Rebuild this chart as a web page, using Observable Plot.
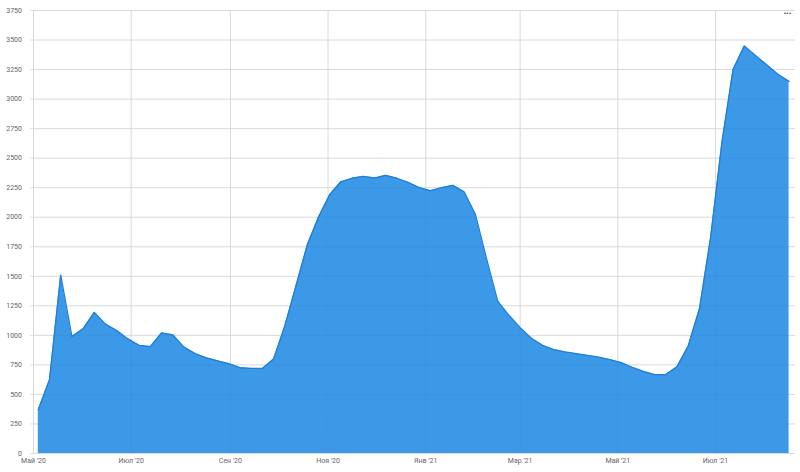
<!DOCTYPE html>
<html>
<head>
<meta charset="utf-8">
<script src="https://cdn.jsdelivr.net/npm/d3@7"></script>
<script src="https://cdn.jsdelivr.net/npm/@observablehq/plot@0.6"></script>
<style>
  html, body { margin: 0; padding: 0; background: #fff; }
  #chart svg { display: block; }
</style>
</head>
<body>
<div id="chart"></div>
<script>
const dates = [
  "2020-05-04","2020-05-11","2020-05-18","2020-05-25","2020-06-01","2020-06-08","2020-06-15","2020-06-22","2020-06-29",
  "2020-07-06","2020-07-13","2020-07-20","2020-07-27","2020-08-03","2020-08-10","2020-08-17","2020-08-24","2020-08-31",
  "2020-09-07","2020-09-14","2020-09-21","2020-09-28","2020-10-05","2020-10-12","2020-10-19","2020-10-26",
  "2020-11-02","2020-11-09","2020-11-16","2020-11-23","2020-11-30","2020-12-07","2020-12-14","2020-12-21","2020-12-28",
  "2021-01-04","2021-01-11","2021-01-18","2021-01-25","2021-02-01","2021-02-08","2021-02-15","2021-02-22",
  "2021-03-01","2021-03-08","2021-03-15","2021-03-22","2021-03-29","2021-04-05","2021-04-12","2021-04-19","2021-04-26",
  "2021-05-03","2021-05-10","2021-05-17","2021-05-24","2021-05-31","2021-06-07","2021-06-14","2021-06-21","2021-06-28",
  "2021-07-05","2021-07-12","2021-07-19","2021-07-26","2021-08-02","2021-08-09","2021-08-16"
];
const values = [
  370, 625, 1510, 990, 1055, 1195, 1095, 1040, 970,
  915, 905, 1020, 1005, 900, 845, 810, 785, 760,
  726, 720, 720, 800, 1080, 1420, 1765, 2000,
  2190, 2300, 2330, 2345, 2332, 2355, 2330, 2295, 2250,
  2225, 2250, 2270, 2215, 2025, 1650, 1290, 1170,
  1065, 975, 915, 880, 860, 845, 830, 815, 795,
  770, 730, 695, 668, 668, 735, 910, 1225, 1830,
  2630, 3250, 3450, 3370, 3290, 3210, 3150
];
const xTickDates = ["2020-05-01","2020-07-01","2020-09-01","2020-11-01","2021-01-01","2021-03-01","2021-05-01","2021-07-01"];
const xTickLabels = ["Май '20","Июл '20","Сен '20","Ноя '20","Янв '21","Мар '21","Май '21","Июл '21"];
const yTicks = [0,250,500,750,1000,1250,1500,1750,2000,2250,2500,2750,3000,3250,3500,3750];
const xDomain = ["2020-05-01","2021-08-20"];

const data = dates.map((d, i) => ({date: new Date(d + "T00:00:00Z"), value: values[i]}));
const xt = xTickDates.map(d => new Date(d + "T00:00:00Z"));
const labelOf = new Map(xt.map((d, i) => [+d, xTickLabels[i]]));

const chart = Plot.plot({
  width: 800,
  height: 472,
  marginLeft: 33,
  marginRight: 5,
  marginTop: 10,
  marginBottom: 19,
  style: {fontFamily: "Roboto, sans-serif", fontSize: "7px", background: "#fff", color: "#666"},
  x: {type: "utc", domain: xDomain.map(d => new Date(d + "T00:00:00Z")), label: null},
  y: {domain: [0, 3750], label: null},
  marks: [
    Plot.gridY(yTicks, {stroke: "#e2e2e2", strokeOpacity: 1}),
    Plot.gridX(xt, {stroke: "#e2e2e2", strokeOpacity: 1}),
    Plot.axisY(yTicks, {tickSize: 3, color: "#e2e2e2", text: null, label: null}),
    Plot.axisY(yTicks, {tickSize: 0, tickPadding: 11.5, color: "#666", label: null, tickFormat: d => String(d)}),
    Plot.axisX(xt, {tickSize: 0, tickPadding: 5, color: "#666", label: null, tickFormat: d => labelOf.get(+d)}),
    Plot.areaY(data, {x: "date", y: "value", fill: "#3c99e8", curve: "linear"}),
    Plot.gridY(yTicks, {stroke: "#000", strokeOpacity: 0.035}),
    Plot.gridX(xt, {stroke: "#000", strokeOpacity: 0.035}),
    Plot.lineY(data, {x: "date", y: "value", stroke: "#1f7fd8", strokeWidth: 1.3, curve: "linear"}),
    Plot.text(["•••"], {frameAnchor: "top-right", dx: -4, dy: 0, fontSize: 8, fill: "#444"})
  ]
});
document.getElementById("chart").append(chart);
</script>
</body>
</html>
